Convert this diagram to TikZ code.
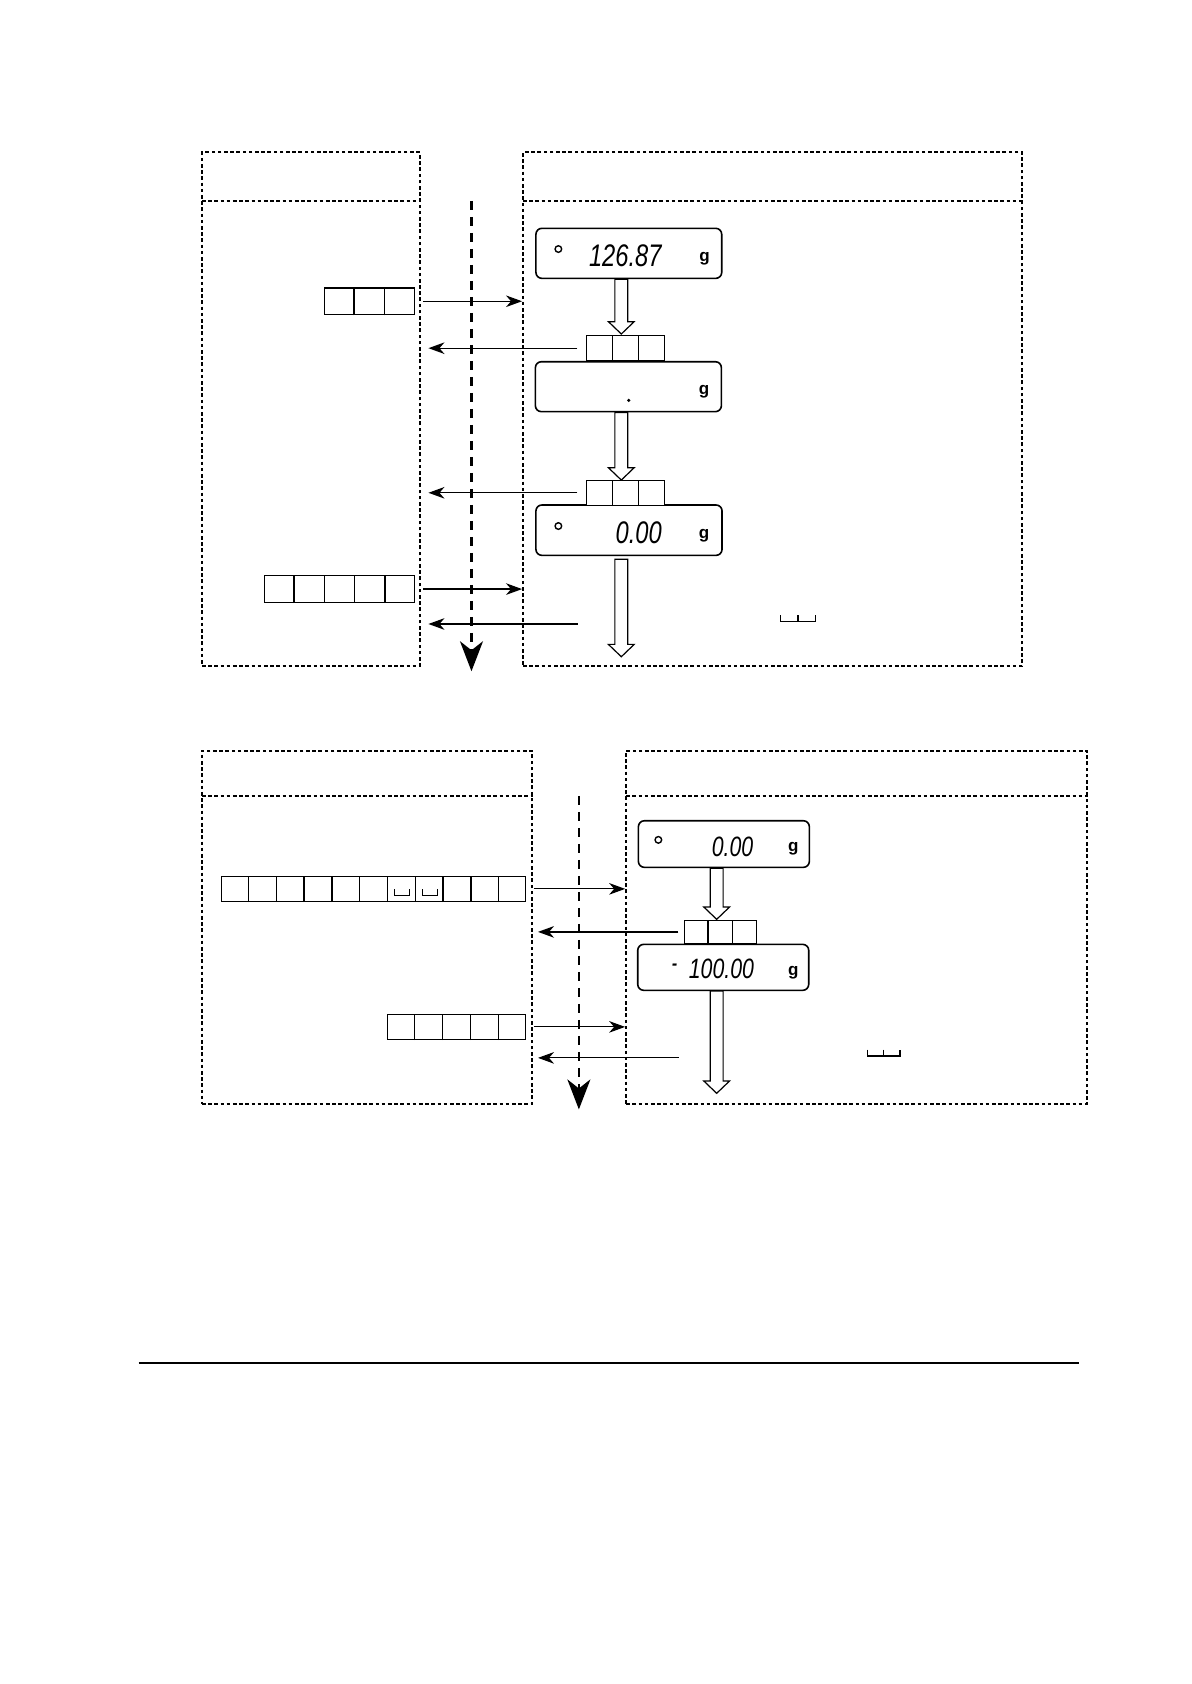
\documentclass[tikz,border=0pt]{standalone}
\usepackage{fontspec}
\usepackage{tikz}
\usetikzlibrary{arrows.meta,positioning,fit,calc}

\newfontfamily\lcdfont{Liberation Sans}
\newcommand{\lcdtext}[1]{\scalebox{0.76}[1]{#1}}
% hollow down arrow, shaft starts at #1, tip at #2
\newcommand{\hollowdown}[2]{%
  \draw[hollow] ($(#2 |- #1)+(-6,0)$) -- ($(#2)+(-6,-11.5)$) -- ($(#2)+(-12,-11.5)$)
    -- (#2) -- ($(#2)+(12,-11.5)$) -- ($(#2)+(6,-11.5)$) -- ($(#2 |- #1)+(6,0)$) -- cycle;}
% row of empty key cells
\newcommand{\keyrow}[4]{%
  \node[cell, fit={#2 #3}] (#1) {};
  \foreach \j in {2,...,#4}{
    \pgfmathsetmacro\kfrac{(\j-1)/#4}
    \draw[cell] ($(#1.south west)!\kfrac!(#1.south east)$) -- ($(#1.north west)!\kfrac!(#1.north east)$);
  }}
% visible space mark: centre x, half width, bottom y
\newcommand{\spcmark}[3]{\draw[spc] (#1-#2,#3-6) -- (#1-#2,#3) -- (#1+#2,#3) -- (#1+#2,#3-6);}

\begin{document}
\begin{tikzpicture}[x=0.537pt, y=-0.537pt,
    dashbox/.style={draw, inner sep=0pt, line width=1pt, dash pattern=on 1.8pt off 1.3pt},
    dashsep/.style={line width=1pt, dash pattern=on 1.8pt off 1.3pt},
    lcd/.style={draw, inner sep=0pt, line width=0.8pt, rounded corners=3pt, fill=white},
    cell/.style={draw, inner sep=0pt, line width=0.7pt, fill=white},
    arr/.style={-{Stealth[length=8pt,width=5.8pt,inset=2.5pt]}, line width=0.6pt},
    flow/.style={-{Stealth[length=15pt,width=11.5pt,inset=4.5pt]}, line width=1.1pt,
                 dash pattern=on 4.5pt off 3.5pt},
    hollow/.style={draw, line width=0.6pt, fill=white},
    digits/.style={font=\fontsize{15.6}{15.6}\selectfont\lcdfont\itshape, inner sep=0pt},
    digitsb/.style={font=\fontsize{14}{14}\selectfont\lcdfont\itshape, inner sep=0pt},
    unitg/.style={font=\fontsize{8.5}{8.5}\selectfont\lcdfont\bfseries, inner sep=0pt},
    zmark/.style={draw, circle, line width=0.7pt, minimum size=3.3pt, inner sep=0pt},
    spc/.style={line width=0.6pt}]

    \useasboundingbox (0,0) rectangle (1109,1568);

    % upper frames
    \node[dashbox, fit={(188,142) (391,620)}] (lbox1) {};
    \node[dashbox, fit={(487,142) (952,620)}] (rbox1) {};
    \coordinate (lsep1) at (188,187);
    \coordinate (rsep1) at (487,187);
    \draw[dashsep] (lsep1) -- (lsep1 -| lbox1.east);
    \draw[dashsep] (rsep1) -- (rsep1 -| rbox1.east);

    \coordinate (f1s) at (439,187);
    \coordinate (f1e) at (439,625);
    \draw[flow] (f1s) -- (f1e);

    % upper displays
    \node[lcd, fit={(499,212.6) (672,259.2)}] (disp1) {};
    \node[zmark] (z1) at (519.9,231.9) {};
    \node[digits] (v1) at (582.2,238) {\lcdtext{126.87}};
    \node[unitg] (g1) at (656,241) {g};

    \node[lcd, fit={(498.5,336.8) (671.7,383.3)}] (disp2) {};
    \node[circle, fill, inner sep=0pt, minimum size=1.8pt] (dot2) at (585.4,372.8) {};
    \node[unitg] (g2) at (655.5,364.7) {g};

    \node[lcd, fit={(499,470.2) (672.3,517.1)}] (disp3) {};
    \node[zmark] (z3) at (519.9,489.8) {};
    \node[digits] (v3) at (594.7,496.3) {\lcdtext{0.00}};
    \node[unitg] (g3) at (655.5,498.8) {g};

    \keyrow{key1}{(546.3,312.2)}{(618.6,336.2)}{3}
    \keyrow{key2}{(546.3,447.2)}{(618.6,470.5)}{3}

    \coordinate (t1) at (578.5,311);
    \coordinate (t2) at (578.5,447);
    \coordinate (t3s) at (578.5,520.8);
    \coordinate (t3) at (578.5,611.5);
    \hollowdown{disp1.south}{t1}
    \hollowdown{disp2.south}{t2}
    \hollowdown{t3s}{t3}

    % upper keys and arrows
    \keyrow{pad1}{(302,268)}{(386,293)}{3}
    \keyrow{pad2}{(246,536)}{(386,561)}{5}

    \draw[arr] ($(pad1.east)+(7,0)$) -- (pad1.east -| rbox1.west);
    \draw[arr] ($(key1.west)+(-8,0)$) -- ($(key1.west -| lbox1.east)+(7,0)$);
    \draw[arr] ($(key2.west)+(-8,0)$) -- ($(key2.west -| lbox1.east)+(7,0)$);
    \draw[arr] ($(pad2.east)+(7,0)$) -- (pad2.east -| rbox1.west);
    \coordinate (r1) at (538,581);
    \draw[arr] (r1) -- ($(r1 -| lbox1.east)+(7,0)$);

    \spcmark{734.6}{8.2}{578.9}
    \spcmark{751.3}{8.2}{578.9}

    % lower frames
    \node[dashbox, fit={(188,699) (495,1028)}] (lbox2) {};
    \node[dashbox, fit={(583,699) (1012,1028)}] (rbox2) {};
    \coordinate (lsep2) at (188,741);
    \coordinate (rsep2) at (583,741);
    \draw[dashsep] (lsep2) -- (lsep2 -| lbox2.east);
    \draw[dashsep] (rsep2) -- (rsep2 -| rbox2.east);

    \coordinate (f2s) at (539,741);
    \coordinate (f2e) at (539,1033);
    \draw[flow] (f2s) -- (f2e);

    % lower displays
    \node[lcd, fit={(594.4,764.2) (753.6,807.6)}] (disp4) {};
    \node[zmark] (z4) at (613,782) {};
    \node[digitsb] (v4) at (682,788.4) {\lcdtext{0.00}};
    \node[unitg] (g4) at (738.7,790) {g};

    \node[lcd, fit={(593.8,879.3) (753,922.1)}] (disp5) {};
    \node[digitsb] (m5) at (627.9,901.6) {\scalebox{0.6}[1]{-}};
    \node[digitsb] (v5) at (671.7,902.3) {\lcdtext{100.00}};
    \node[unitg] (g5) at (738.7,905.4) {g};

    \keyrow{key3}{(637.2,857)}{(704.2,878.4)}{3}

    \coordinate (t4) at (667.3,856);
    \coordinate (t5) at (667.3,1018);
    \hollowdown{disp4.south}{t4}
    \hollowdown{disp5.south}{t5}

    % lower keys and arrows
    \keyrow{pad3}{(206.1,816)}{(489.5,839.3)}{11}
    \keyrow{pad4}{(360.7,944.5)}{(489.5,967.8)}{5}
    \spcmark{374.4}{7}{834}
    \spcmark{400.4}{7}{834}

    \draw[arr] ($(pad3.east)+(7.5,0)$) -- (pad3.east -| rbox2.west);
    \draw[arr] ($(key3.west)+(-5,0)$) -- ($(key3.west -| lbox2.east)+(5,0)$);
    \draw[arr] ($(pad4.east)+(7.5,0)$) -- (pad4.east -| rbox2.west);
    \coordinate (r2) at (632,985);
    \draw[arr] (r2) -- ($(r2 -| lbox2.east)+(5,0)$);

    \spcmark{815.2}{7.5}{983.3}
    \spcmark{830.4}{7.5}{983.3}

    % footer rule
    \draw[line width=0.7pt] (129,1269) -- (1005,1269);
\end{tikzpicture}
\end{document}
